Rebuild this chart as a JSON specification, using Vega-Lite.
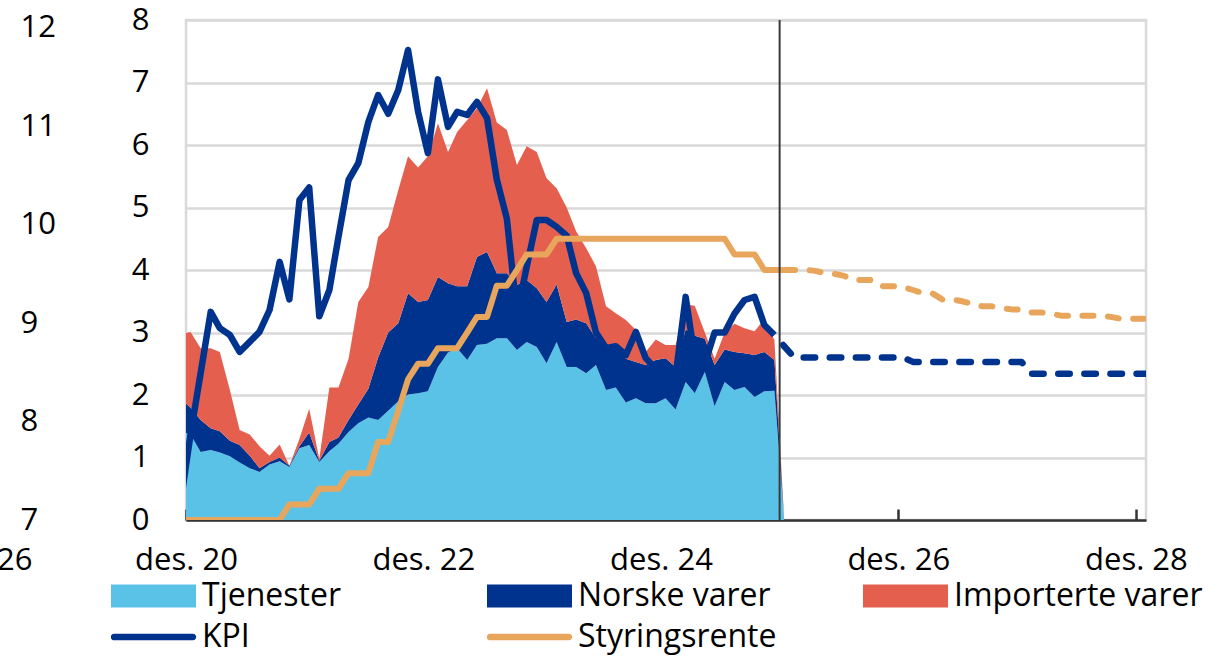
{
  "$schema": "https://vega.github.io/schema/vega-lite/v6.json",
  "width": 960,
  "height": 500,
  "autosize": {"type": "none"},
  "padding": {"left": 186, "top": 20, "right": 84, "bottom": 141},
  "background": "white",
  "config": {
    "font": "Open Sans",
    "view": {"stroke": "#d9d9d9", "strokeWidth": 2.5},
    "axis": {"labelFont": "Open Sans", "labelFontSize": 31, "labelColor": "#000000"}
  },
  "datasets": {
    "hist": [
      {"date": "2020-11-15", "Tjenester": 1.42, "Norske varer": 0.51, "Importerte varer": 1.04, "KPI": 0.3, "Styringsrente": 0},
      {"date": "2020-12-15", "Tjenester": 1.37, "Norske varer": 0.43, "Importerte varer": 1.21, "KPI": 1.37, "Styringsrente": 0},
      {"date": "2021-01-15", "Tjenester": 1.09, "Norske varer": 0.51, "Importerte varer": 1.15, "KPI": 2.35, "Styringsrente": 0},
      {"date": "2021-02-15", "Tjenester": 1.12, "Norske varer": 0.35, "Importerte varer": 1.28, "KPI": 3.33, "Styringsrente": 0},
      {"date": "2021-03-15", "Tjenester": 1.08, "Norske varer": 0.34, "Importerte varer": 1.27, "KPI": 3.07, "Styringsrente": 0},
      {"date": "2021-04-15", "Tjenester": 1.02, "Norske varer": 0.25, "Importerte varer": 0.81, "KPI": 2.96, "Styringsrente": 0},
      {"date": "2021-05-15", "Tjenester": 0.92, "Norske varer": 0.28, "Importerte varer": 0.24, "KPI": 2.69, "Styringsrente": 0},
      {"date": "2021-06-15", "Tjenester": 0.83, "Norske varer": 0.2, "Importerte varer": 0.34, "KPI": 2.85, "Styringsrente": 0},
      {"date": "2021-07-15", "Tjenester": 0.77, "Norske varer": 0.06, "Importerte varer": 0.35, "KPI": 3.01, "Styringsrente": 0},
      {"date": "2021-08-15", "Tjenester": 0.89, "Norske varer": 0.04, "Importerte varer": 0.1, "KPI": 3.36, "Styringsrente": 0},
      {"date": "2021-09-15", "Tjenester": 0.94, "Norske varer": 0.06, "Importerte varer": 0.21, "KPI": 4.13, "Styringsrente": 0},
      {"date": "2021-10-15", "Tjenester": 0.85, "Norske varer": 0.02, "Importerte varer": 0.0, "KPI": 3.53, "Styringsrente": 0.25},
      {"date": "2021-11-15", "Tjenester": 1.15, "Norske varer": 0.03, "Importerte varer": 0.12, "KPI": 5.12, "Styringsrente": 0.25},
      {"date": "2021-12-15", "Tjenester": 1.2, "Norske varer": 0.2, "Importerte varer": 0.38, "KPI": 5.32, "Styringsrente": 0.25},
      {"date": "2022-01-15", "Tjenester": 0.93, "Norske varer": 0.02, "Importerte varer": 0.03, "KPI": 3.26, "Styringsrente": 0.5},
      {"date": "2022-02-15", "Tjenester": 1.1, "Norske varer": 0.15, "Importerte varer": 0.87, "KPI": 3.68, "Styringsrente": 0.5},
      {"date": "2022-03-15", "Tjenester": 1.22, "Norske varer": 0.1, "Importerte varer": 0.8, "KPI": 4.53, "Styringsrente": 0.5},
      {"date": "2022-04-15", "Tjenester": 1.41, "Norske varer": 0.19, "Importerte varer": 0.98, "KPI": 5.44, "Styringsrente": 0.75},
      {"date": "2022-05-15", "Tjenester": 1.55, "Norske varer": 0.3, "Importerte varer": 1.64, "KPI": 5.71, "Styringsrente": 0.75},
      {"date": "2022-06-15", "Tjenester": 1.64, "Norske varer": 0.46, "Importerte varer": 1.63, "KPI": 6.37, "Styringsrente": 0.75},
      {"date": "2022-07-15", "Tjenester": 1.6, "Norske varer": 1.0, "Importerte varer": 1.93, "KPI": 6.8, "Styringsrente": 1.25},
      {"date": "2022-08-15", "Tjenester": 1.75, "Norske varer": 1.25, "Importerte varer": 1.69, "KPI": 6.5, "Styringsrente": 1.25},
      {"date": "2022-09-15", "Tjenester": 1.9, "Norske varer": 1.25, "Importerte varer": 2.13, "KPI": 6.88, "Styringsrente": 1.75},
      {"date": "2022-10-15", "Tjenester": 2.01, "Norske varer": 1.62, "Importerte varer": 2.19, "KPI": 7.52, "Styringsrente": 2.25},
      {"date": "2022-11-15", "Tjenester": 2.03, "Norske varer": 1.46, "Importerte varer": 2.15, "KPI": 6.53, "Styringsrente": 2.5},
      {"date": "2022-12-15", "Tjenester": 2.06, "Norske varer": 1.46, "Importerte varer": 2.3, "KPI": 5.87, "Styringsrente": 2.5},
      {"date": "2023-01-15", "Tjenester": 2.45, "Norske varer": 1.44, "Importerte varer": 2.46, "KPI": 7.05, "Styringsrente": 2.75},
      {"date": "2023-02-15", "Tjenester": 2.68, "Norske varer": 1.11, "Importerte varer": 2.1, "KPI": 6.29, "Styringsrente": 2.75},
      {"date": "2023-03-15", "Tjenester": 2.75, "Norske varer": 0.99, "Importerte varer": 2.47, "KPI": 6.53, "Styringsrente": 2.75},
      {"date": "2023-04-15", "Tjenester": 2.56, "Norske varer": 1.18, "Importerte varer": 2.66, "KPI": 6.48, "Styringsrente": 3.0},
      {"date": "2023-05-15", "Tjenester": 2.8, "Norske varer": 1.41, "Importerte varer": 2.38, "KPI": 6.69, "Styringsrente": 3.25},
      {"date": "2023-06-15", "Tjenester": 2.82, "Norske varer": 1.47, "Importerte varer": 2.62, "KPI": 6.43, "Styringsrente": 3.25},
      {"date": "2023-07-15", "Tjenester": 2.91, "Norske varer": 1.04, "Importerte varer": 2.41, "KPI": 5.45, "Styringsrente": 3.75},
      {"date": "2023-08-15", "Tjenester": 2.91, "Norske varer": 1.04, "Importerte varer": 2.29, "KPI": 4.82, "Styringsrente": 3.75},
      {"date": "2023-09-15", "Tjenester": 2.72, "Norske varer": 1.04, "Importerte varer": 1.92, "KPI": 3.3, "Styringsrente": 4.0},
      {"date": "2023-10-15", "Tjenester": 2.85, "Norske varer": 0.99, "Importerte varer": 2.14, "KPI": 4.05, "Styringsrente": 4.25},
      {"date": "2023-11-15", "Tjenester": 2.77, "Norske varer": 0.94, "Importerte varer": 2.18, "KPI": 4.8, "Styringsrente": 4.25},
      {"date": "2023-12-15", "Tjenester": 2.51, "Norske varer": 0.98, "Importerte varer": 1.98, "KPI": 4.8, "Styringsrente": 4.25},
      {"date": "2024-01-15", "Tjenester": 2.85, "Norske varer": 0.92, "Importerte varer": 1.54, "KPI": 4.69, "Styringsrente": 4.5},
      {"date": "2024-02-15", "Tjenester": 2.45, "Norske varer": 0.72, "Importerte varer": 1.83, "KPI": 4.55, "Styringsrente": 4.5},
      {"date": "2024-03-15", "Tjenester": 2.45, "Norske varer": 0.76, "Importerte varer": 1.41, "KPI": 3.95, "Styringsrente": 4.5},
      {"date": "2024-04-15", "Tjenester": 2.35, "Norske varer": 0.8, "Importerte varer": 1.2, "KPI": 3.63, "Styringsrente": 4.5},
      {"date": "2024-05-15", "Tjenester": 2.48, "Norske varer": 0.43, "Importerte varer": 1.15, "KPI": 3.0, "Styringsrente": 4.5},
      {"date": "2024-06-15", "Tjenester": 2.08, "Norske varer": 0.69, "Importerte varer": 0.65, "KPI": 2.75, "Styringsrente": 4.5},
      {"date": "2024-07-15", "Tjenester": 2.12, "Norske varer": 0.68, "Importerte varer": 0.51, "KPI": 2.78, "Styringsrente": 4.5},
      {"date": "2024-08-15", "Tjenester": 1.88, "Norske varer": 0.7, "Importerte varer": 0.62, "KPI": 2.64, "Styringsrente": 4.5},
      {"date": "2024-09-15", "Tjenester": 1.95, "Norske varer": 0.58, "Importerte varer": 0.51, "KPI": 3.01, "Styringsrente": 4.5},
      {"date": "2024-10-15", "Tjenester": 1.87, "Norske varer": 0.61, "Importerte varer": 0.21, "KPI": 2.59, "Styringsrente": 4.5},
      {"date": "2024-11-15", "Tjenester": 1.87, "Norske varer": 0.69, "Importerte varer": 0.33, "KPI": 2.42, "Styringsrente": 4.5},
      {"date": "2024-12-15", "Tjenester": 1.95, "Norske varer": 0.64, "Importerte varer": 0.21, "KPI": 2.2, "Styringsrente": 4.5},
      {"date": "2025-01-15", "Tjenester": 1.77, "Norske varer": 0.68, "Importerte varer": 0.35, "KPI": 2.3, "Styringsrente": 4.5},
      {"date": "2025-02-15", "Tjenester": 2.21, "Norske varer": 0.84, "Importerte varer": 0.4, "KPI": 3.57, "Styringsrente": 4.5},
      {"date": "2025-03-15", "Tjenester": 2.03, "Norske varer": 0.92, "Importerte varer": 0.48, "KPI": 2.6, "Styringsrente": 4.5},
      {"date": "2025-04-15", "Tjenester": 2.37, "Norske varer": 0.53, "Importerte varer": 0.1, "KPI": 2.5, "Styringsrente": 4.5},
      {"date": "2025-05-15", "Tjenester": 1.82, "Norske varer": 0.66, "Importerte varer": 0.1, "KPI": 3.0, "Styringsrente": 4.5},
      {"date": "2025-06-15", "Tjenester": 2.21, "Norske varer": 0.52, "Importerte varer": 0.27, "KPI": 3.0, "Styringsrente": 4.5},
      {"date": "2025-07-15", "Tjenester": 2.08, "Norske varer": 0.61, "Importerte varer": 0.45, "KPI": 3.3, "Styringsrente": 4.25},
      {"date": "2025-08-15", "Tjenester": 2.13, "Norske varer": 0.54, "Importerte varer": 0.4, "KPI": 3.52, "Styringsrente": 4.25},
      {"date": "2025-09-15", "Tjenester": 1.97, "Norske varer": 0.67, "Importerte varer": 0.38, "KPI": 3.57, "Styringsrente": 4.25},
      {"date": "2025-10-15", "Tjenester": 2.06, "Norske varer": 0.63, "Importerte varer": 0.53, "KPI": 3.12, "Styringsrente": 4.0},
      {"date": "2025-11-15", "Tjenester": 2.07, "Norske varer": 0.49, "Importerte varer": 0.32, "KPI": 2.96, "Styringsrente": 4.0},
      {"date": "2025-12-15", "Tjenester": 0, "Norske varer": 0, "Importerte varer": 0, "KPI": null, "Styringsrente": 4.0}
    ],
    "proj": [
      {"date": "2025-11-15", "KPI": 2.96, "Styringsrente": null},
      {"date": "2025-12-15", "KPI": 2.78, "Styringsrente": 4.0},
      {"date": "2026-01-15", "KPI": 2.6, "Styringsrente": 4.0},
      {"date": "2026-02-15", "KPI": 2.6, "Styringsrente": 4.0},
      {"date": "2026-03-15", "KPI": 2.6, "Styringsrente": 3.99},
      {"date": "2026-04-15", "KPI": 2.6, "Styringsrente": 3.96},
      {"date": "2026-05-15", "KPI": 2.6, "Styringsrente": 3.94},
      {"date": "2026-06-15", "KPI": 2.6, "Styringsrente": 3.91},
      {"date": "2026-07-15", "KPI": 2.6, "Styringsrente": 3.84},
      {"date": "2026-08-15", "KPI": 2.6, "Styringsrente": 3.84},
      {"date": "2026-09-15", "KPI": 2.6, "Styringsrente": 3.84},
      {"date": "2026-10-15", "KPI": 2.6, "Styringsrente": 3.74},
      {"date": "2026-11-15", "KPI": 2.6, "Styringsrente": 3.74},
      {"date": "2026-12-15", "KPI": 2.6, "Styringsrente": 3.73},
      {"date": "2027-01-15", "KPI": 2.53, "Styringsrente": 3.68},
      {"date": "2027-02-15", "KPI": 2.53, "Styringsrente": 3.63},
      {"date": "2027-03-15", "KPI": 2.53, "Styringsrente": 3.63},
      {"date": "2027-04-15", "KPI": 2.53, "Styringsrente": 3.53},
      {"date": "2027-05-15", "KPI": 2.53, "Styringsrente": 3.53},
      {"date": "2027-06-15", "KPI": 2.53, "Styringsrente": 3.5},
      {"date": "2027-07-15", "KPI": 2.53, "Styringsrente": 3.46},
      {"date": "2027-08-15", "KPI": 2.53, "Styringsrente": 3.42},
      {"date": "2027-09-15", "KPI": 2.53, "Styringsrente": 3.42},
      {"date": "2027-10-15", "KPI": 2.53, "Styringsrente": 3.39},
      {"date": "2027-11-15", "KPI": 2.53, "Styringsrente": 3.37},
      {"date": "2027-12-15", "KPI": 2.53, "Styringsrente": 3.37},
      {"date": "2028-01-15", "KPI": 2.34, "Styringsrente": 3.32},
      {"date": "2028-02-15", "KPI": 2.34, "Styringsrente": 3.32},
      {"date": "2028-03-15", "KPI": 2.34, "Styringsrente": 3.3},
      {"date": "2028-04-15", "KPI": 2.34, "Styringsrente": 3.27},
      {"date": "2028-05-15", "KPI": 2.34, "Styringsrente": 3.27},
      {"date": "2028-06-15", "KPI": 2.34, "Styringsrente": 3.27},
      {"date": "2028-07-15", "KPI": 2.34, "Styringsrente": 3.27},
      {"date": "2028-08-15", "KPI": 2.34, "Styringsrente": 3.27},
      {"date": "2028-09-15", "KPI": 2.34, "Styringsrente": 3.25},
      {"date": "2028-10-15", "KPI": 2.34, "Styringsrente": 3.22},
      {"date": "2028-11-15", "KPI": 2.34, "Styringsrente": 3.22},
      {"date": "2028-12-15", "KPI": 2.34, "Styringsrente": 3.22},
      {"date": "2029-01-15", "KPI": 2.34, "Styringsrente": 3.22}
    ]
  },
  "resolve": {
    "scale": {"x": "independent", "y": "independent"},
    "axis": {"x": "independent", "y": "independent"}
  },
  "layer": [
    {
      "layer": [
        {
          "data": {"name": "hist"},
          "transform": [{"fold": ["Tjenester", "Norske varer", "Importerte varer"], "as": ["serie", "verdi"]}],
          "mark": {"type": "area", "clip": true, "interpolate": "linear"},
          "encoding": {
            "x": {
              "field": "date", "type": "temporal", "title": null,
              "scale": {"type": "utc", "domain": [{"year": 2020, "month": 12, "date": 1, "utc": true}, {"year": 2029, "month": 1, "date": 1, "utc": true}]},
              "axis": {
                "values": [
                  {"year": 2020, "month": 12, "date": 1, "utc": true},
                  {"year": 2022, "month": 12, "date": 1, "utc": true},
                  {"year": 2024, "month": 12, "date": 1, "utc": true},
                  {"year": 2026, "month": 12, "date": 1, "utc": true},
                  {"year": 2028, "month": 12, "date": 1, "utc": true}
                ],
                "labelExpr": "'des. ' + utcFormat(datum.value, '%y')",
                "labelFlush": false,
                "labelOverlap": false,
                "grid": false,
                "domain": true,
                "domainColor": "#333333",
                "domainWidth": 2.5,
                "ticks": true,
                "tickSize": -11,
                "tickColor": "#333333",
                "tickWidth": 2.5,
                "labelPadding": 36
              }
            },
            "y": {
              "field": "verdi", "type": "quantitative", "stack": "zero", "title": null,
              "scale": {"domain": [0, 8], "nice": false},
              "axis": {
                "values": [0, 1, 2, 3, 4, 5, 6, 7, 8],
                "format": "d",
                "grid": true,
                "gridColor": "#d9d9d9",
                "gridWidth": 2.5,
                "domain": false,
                "ticks": false,
                "labelPadding": 37
              }
            },
            "color": {
              "field": "serie", "type": "nominal",
              "scale": {
                "domain": ["Tjenester", "Norske varer", "Importerte varer", "KPI", "Styringsrente"],
                "range": ["#5BC2E7", "#00338D", "#E55F4F", "#00338D", "#E8A65D"]
              },
              "legend": {
                "title": null,
                "orient": "none",
                "direction": "horizontal",
                "legendX": -75,
                "legendY": 559,
                "columns": 3,
                "gridAlign": "all",
                "columnPadding": 36,
                "rowPadding": 7,
                "clipHeight": 34,
                "symbolSize": 7225,
                "symbolStrokeWidth": 0,
                "labelOffset": 6,
                "labelFontSize": 32,
                "labelFont": "Open Sans",
                "labelColor": "#000000",
                "labelLimit": 0,
                "padding": 0,
                "encode": {
                  "symbols": {
                    "update": {
                      "shape": {"signal": "indexof(['KPI','Styringsrente'], datum.value) >= 0 ? 'M-0.93,-0.075H0.93A0.075,0.075 0 0 1 0.93,0.075H-0.93A0.075,0.075 0 0 1 -0.93,-0.075Z' : 'M-1,-0.27H1V0.27H-1Z'"},
                      "fill": {"signal": "scale('color', datum.value)"},
                      "stroke": {"value": "transparent"},
                      "strokeWidth": {"value": 0},
                      "opacity": {"value": 1}
                    }
                  }
                }
              }
            },
            "order": {"field": "serie", "type": "nominal", "sort": "descending"}
          }
        },
        {
          "data": {"name": "hist"},
          "mark": {"type": "line", "clip": true, "strokeWidth": 6.5, "strokeJoin": "round"},
          "encoding": {
            "x": {"field": "date", "type": "temporal", "title": null},
            "y": {"field": "KPI", "type": "quantitative", "title": null},
            "color": {"datum": "KPI"}
          }
        },
        {
          "data": {"name": "hist"},
          "mark": {"type": "line", "clip": true, "strokeWidth": 6, "strokeJoin": "round"},
          "encoding": {
            "x": {"field": "date", "type": "temporal", "title": null},
            "y": {"field": "Styringsrente", "type": "quantitative", "title": null},
            "color": {"datum": "Styringsrente"}
          }
        },
        {
          "data": {"name": "proj"},
          "mark": {"type": "line", "clip": true, "strokeWidth": 6.5, "strokeJoin": "round", "strokeCap": "round", "strokeDash": [11.5, 14.6], "strokeDashOffset": 12.8, "color": "#00338D"},
          "encoding": {
            "x": {"field": "date", "type": "temporal", "title": null},
            "y": {"field": "KPI", "type": "quantitative", "title": null}
          }
        },
        {
          "data": {"name": "proj"},
          "mark": {"type": "line", "clip": true, "strokeWidth": 6, "strokeJoin": "round", "strokeCap": "round", "strokeDash": [11, 14.5], "color": "#E8A65D"},
          "encoding": {
            "x": {"field": "date", "type": "temporal", "title": null},
            "y": {"field": "Styringsrente", "type": "quantitative", "title": null}
          }
        },
        {
          "data": {"values": [{"d": "2025-12-01"}]},
          "mark": {"type": "rule", "color": "#3a3a3a", "strokeWidth": 2},
          "encoding": {
            "x": {"field": "d", "type": "temporal", "title": null}
          }
        }
      ]
    },
    {
      "data": {"values": [{"d": "2020-12-01", "v": 7}, {"d": "2028-12-01", "v": 12}]},
      "mark": {"type": "point", "opacity": 0},
      "encoding": {
        "x": {
          "field": "d", "type": "temporal", "title": null,
          "scale": {"type": "utc", "domain": [{"year": 2020, "month": 12, "date": 1, "utc": true}, {"year": 2029, "month": 1, "date": 1, "utc": true}]},
          "axis": {
            "orient": "bottom",
            "values": [{"year": 2020, "month": 12, "date": 1, "utc": true}],
            "labelExpr": "'des. 26'",
            "labelAlign": "right",
            "labelFlush": false,
            "labelOverlap": false,
            "labelOffset": -154,
            "labelPadding": 36,
            "ticks": true,
            "tickSize": -11,
            "tickOpacity": 0,
            "domain": false,
            "grid": false
          }
        },
        "y": {
          "field": "v", "type": "quantitative", "title": null,
          "scale": {"domain": [7, 12.08], "nice": false, "zero": false},
          "axis": {
            "orient": "left",
            "values": [7, 8, 9, 10, 11, 12],
            "format": "d",
            "labelAlign": "left",
            "labelPadding": 166,
            "domain": false,
            "ticks": false,
            "grid": false
          }
        }
      }
    }
  ]
}
